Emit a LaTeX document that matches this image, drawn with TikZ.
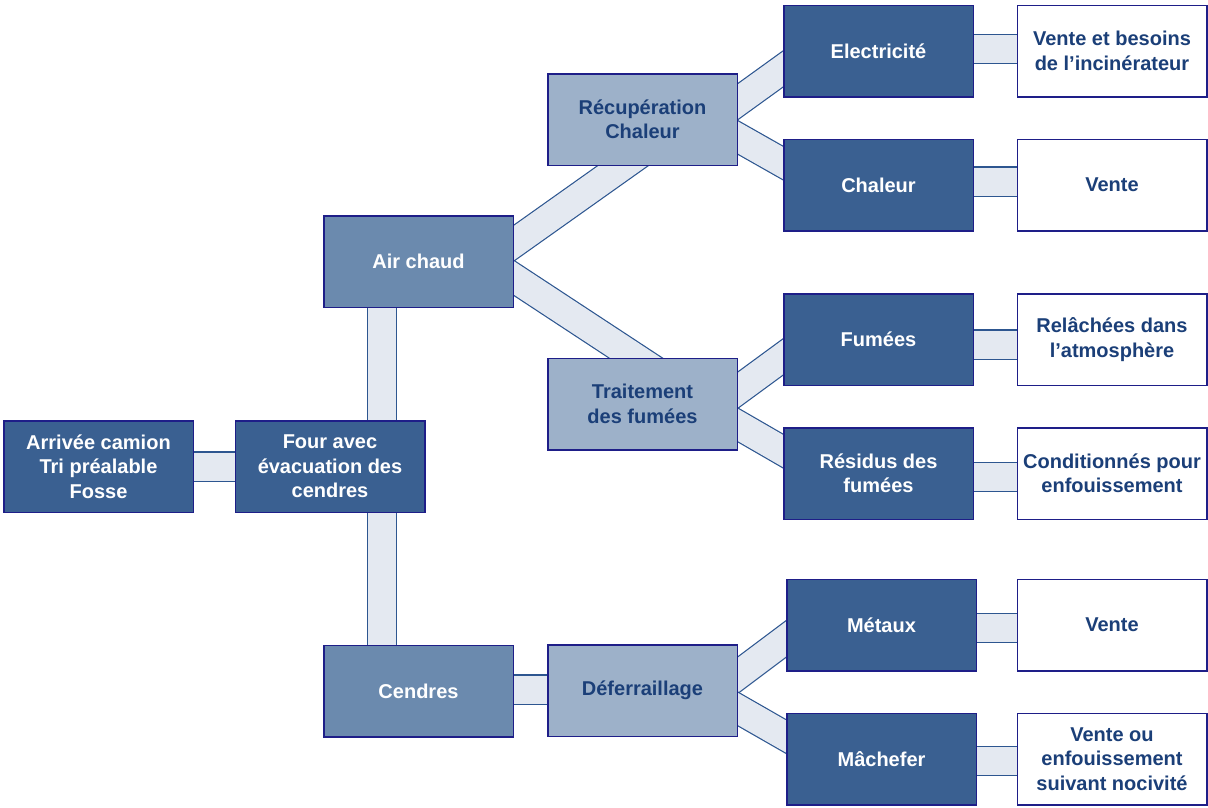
\documentclass[tikz,border=0pt]{standalone}
\usepackage{fontspec}
\setmainfont{Liberation Sans}
\usetikzlibrary{calc}
\definecolor{dark}{HTML}{3A6091}
\definecolor{mid}{HTML}{6B8AAE}
\definecolor{light}{HTML}{9DB1C9}
\definecolor{bandfill}{HTML}{E4E9F1}
\definecolor{bandline}{HTML}{2D5690}
\definecolor{boxline}{HTML}{1E1E88}
\definecolor{navytext}{HTML}{1B3F78}
\pgfdeclarelayer{bg}
\pgfsetlayers{bg,main}
\begin{document}
\begin{tikzpicture}[x=1pt,y=-1pt,
  box/.style={draw=boxline, line width=1.5pt, minimum width=189.5pt, minimum height=91.5pt,
    inner sep=2pt, align=center, font=\fontsize{20}{24.5}\selectfont\bfseries},
  darkbox/.style={box, fill=dark, text=white},
  midbox/.style={box, fill=mid, text=white},
  lightbox/.style={box, fill=light, text=navytext},
  whitebox/.style={box, fill=white, text=navytext},
  band/.style={draw=bandline, line width=1.2pt, double=bandfill, double distance=28pt,
    shorten <=-30pt, shorten >=-30pt}]
\useasboundingbox (0,0) rectangle (1208,807);

\node[darkbox] (arr) at (98.5,466.5) {Arrivée camion\\Tri préalable\\Fosse};
\node[darkbox] (four) at (330,466.5) {Four avec\\évacuation des\\cendres};
\node[midbox] (air) at (418.5,261.5) {Air chaud};
\node[midbox] (cendres) at (418.5,691) {Cendres};
\node[lightbox] (recup) at (642.5,119.5) {Récupération\\Chaleur};
\node[lightbox] (trait) at (642.5,404) {Traitement\\des fumées};
\node[lightbox] (defer) at (642.5,690.5) {Déferraillage};
\node[darkbox] (elec) at (878.5,51) {Electricité};
\node[darkbox] (chal) at (878.5,185) {Chaleur};
\node[darkbox] (fum) at (878.5,339.5) {Fumées};
\node[darkbox] (resid) at (878.5,473.5) {Résidus des\\fumées};
\node[darkbox] (met) at (881.5,625) {Métaux};
\node[darkbox] (mach) at (881.5,759) {Mâchefer};
\node[whitebox] (w1) at (1112,51) {Vente et besoins\\de l’incinérateur};
\node[whitebox] (w2) at (1112,185) {Vente};
\node[whitebox] (w3) at (1112,339.5) {Relâchées dans\\l’atmosphère};
\node[whitebox] (w4) at (1112,473.5) {Conditionnés pour\\enfouissement};
\node[whitebox] (w5) at (1112,625) {Vente};
\node[whitebox] (w6) at (1112,759) {Vente ou\\enfouissement\\suivant nocivité};

\begin{pgfonlayer}{bg}
\draw[band] (arr.east) -- (four.west);
\draw[band] ($(four.north)+(52,0)$) -- ($(air.south)+(-36.5,0)$);
\draw[band] ($(four.south)+(52,0)$) -- ($(cendres.north)+(-36.5,0)$);
\draw[band] ($(cendres.east)+(0,-1.5)$) -- ($(defer.west)+(0,-1)$);
\draw[band] ($(air.east)+(0,-18.5)$) -- ($(recup.south)+(-20,0)$);
\draw[band] ($(air.east)+(0,16.5)$) -- ($(trait.north)+(-7.5,0)$);
\draw[band] ($(recup.east)+(0,-18)$) -- ($(elec.west)+(0,18)$);
\draw[band] ($(recup.east)+(0,18)$) -- ($(chal.west)+(0,-22)$);
\draw[band] ($(trait.east)+(0,-14)$) -- ($(fum.west)+(0,17.5)$);
\draw[band] ($(trait.east)+(0,21)$) -- ($(resid.west)+(0,-22.5)$);
\draw[band] ($(defer.east)+(0,-15.5)$) -- ($(met.west)+(0,14)$);
\draw[band] ($(defer.east)+(0,18.5)$) -- ($(mach.west)+(0,-22.5)$);
\draw[band] ($(elec.east)+(0,-2)$) -- ($(w1.west)+(0,-2)$);
\draw[band] ($(chal.east)+(0,-3.5)$) -- ($(w2.west)+(0,-3.5)$);
\draw[band] ($(fum.east)+(0,5)$) -- ($(w3.west)+(0,5)$);
\draw[band] ($(resid.east)+(0,3.5)$) -- ($(w4.west)+(0,3.5)$);
\draw[band] ($(met.east)+(0,3)$) -- ($(w5.west)+(0,3)$);
\draw[band] ($(mach.east)+(0,2)$) -- ($(w6.west)+(0,2)$);
\end{pgfonlayer}
\end{tikzpicture}
\end{document}
